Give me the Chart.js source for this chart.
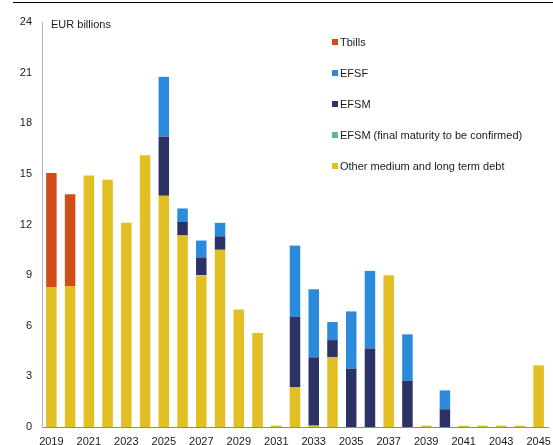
<!DOCTYPE html>
<html>
<head>
<meta charset="utf-8">
<script src="https://cdn.jsdelivr.net/npm/chart.js@4"></script>
<style>
  html, body { margin: 0; padding: 0; background: #fff; }
  #wrap { width: 553px; height: 445px; position: relative; }
</style>
</head>
<body>
<div id="wrap"><canvas id="c" width="553" height="445"></canvas></div>
<script>
// Redemption profile by year, EUR billions
const years = [];
for (let y = 2019; y <= 2045; y++) years.push(String(y));

const otherDebt = [8.3, 8.35, 14.9, 14.65, 12.1, 16.1, 13.7, 11.35, 9.0, 10.5, 6.97, 5.57, 0.08, 2.35, 0.08, 4.15, 0, 0, 9.0, 0, 0.08, 0, 0.08, 0.08, 0.08, 0.08, 3.65];
const efsmFinal = [0, 0, 0, 0, 0, 0, 0, 0, 0, 0, 0, 0, 0, 0, 0, 0, 0, 0, 0, 0, 0, 0, 0, 0, 0, 0, 0];
const efsm = [0, 0, 0, 0, 0, 0, 3.5, 0.8, 1.05, 0.8, 0, 0, 0, 4.2, 4.05, 1.0, 3.45, 4.65, 0, 2.73, 0, 1.05, 0, 0, 0, 0, 0];
const efsf = [0, 0, 0, 0, 0, 0, 3.55, 0.8, 1.0, 0.8, 0, 0, 0, 4.2, 4.03, 1.07, 3.4, 4.6, 0, 2.76, 0, 1.12, 0, 0, 0, 0, 0];
const tbills = [6.75, 5.45, 0, 0, 0, 0, 0, 0, 0, 0, 0, 0, 0, 0, 0, 0, 0, 0, 0, 0, 0, 0, 0, 0, 0, 0, 0];

const yTicks = [0, 3, 6, 9, 12, 15, 18, 21, 24];
const unitLabel = 'EUR billions';

Chart.defaults.font.family = '"Liberation Sans", Arial, sans-serif';
Chart.defaults.font.size = 11;
Chart.defaults.color = '#1a1a1a';

// Legend listed top to bottom, plus the unit caption and the top rule
const extras = {
  id: 'extras',
  afterDraw(chart) {
    const ctx = chart.ctx;
    ctx.save();
    // top rule
    ctx.strokeStyle = '#000';
    ctx.lineWidth = 1;
    ctx.beginPath();
    ctx.moveTo(13, 2.5);
    ctx.lineTo(553, 2.5);
    ctx.stroke();

    ctx.font = '11px "Liberation Sans", Arial, sans-serif';
    ctx.fillStyle = '#1a1a1a';
    ctx.textBaseline = 'middle';
    ctx.textAlign = 'left';
    ctx.fillText(unitLabel, 51, 25);

    const ds = chart.data.datasets.slice().reverse();
    let y = 42;
    ds.forEach(d => {
      ctx.fillStyle = d.backgroundColor;
      ctx.fillRect(332, y - 3, 6, 6);
      ctx.fillStyle = '#1a1a1a';
      ctx.fillText(d.label, 340, y + 0.5);
      y += 31;
    });
    ctx.restore();
  }
};

new Chart(document.getElementById('c'), {
  type: 'bar',
  data: {
    labels: years,
    datasets: [
      { label: 'Other medium and long term debt', data: otherDebt, backgroundColor: '#E2BF23' },
      { label: 'EFSM (final maturity to be confirmed)', data: efsmFinal, backgroundColor: '#5DB89A' },
      { label: 'EFSM', data: efsm, backgroundColor: '#2C3264' },
      { label: 'EFSF', data: efsf, backgroundColor: '#2B8ADB' },
      { label: 'Tbills', data: tbills, backgroundColor: '#D14C19' }
    ]
  },
  options: {
    responsive: false,
    animation: false,
    layout: { padding: { top: 22, right: 5, left: 0, bottom: 0 } },
    datasets: { bar: { barPercentage: 0.56, categoryPercentage: 1.0, borderWidth: 0 } },
    plugins: { legend: { display: false }, tooltip: { enabled: false } },
    scales: {
      x: {
        stacked: true,
        grid: { display: false, drawTicks: false },
        border: { display: true, color: '#8a8a8a', width: 1 },
        ticks: {
          autoSkip: false,
          maxRotation: 0,
          padding: 8,
          callback: function (v, i) { return i % 2 === 0 ? this.getLabelForValue(v) : ''; }
        },
        afterFit(scale) {
          scale.height = 18;
          scale.paddingLeft = 0;
          scale.paddingRight = 0;
        }
      },
      y: {
        stacked: true,
        min: 0,
        max: 24,
        afterBuildTicks(scale) { scale.ticks = yTicks.map(v => ({ value: v })); },
        grid: { display: false, drawTicks: false },
        border: { display: true, color: '#b5b5b5', width: 1 },
        ticks: { padding: 10 },
        afterFit(scale) {
          scale.width = 42;
          scale.paddingTop = 0;
          scale.paddingBottom = 0;
        }
      }
    }
  },
  plugins: [extras]
});
</script>
</body>
</html>
